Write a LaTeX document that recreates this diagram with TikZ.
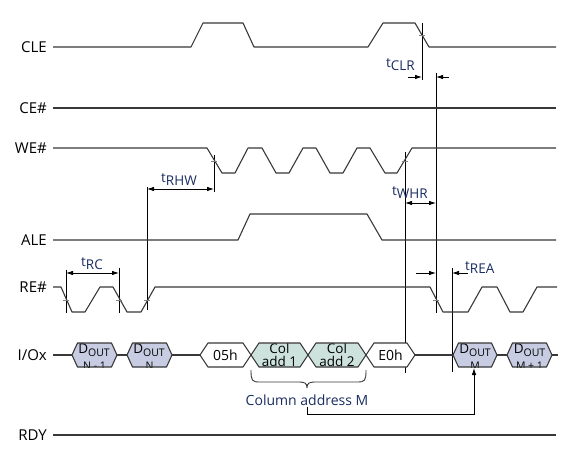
\documentclass[tikz,border=0pt]{standalone}
\usepackage{fontspec}
\setmainfont{Open Sans}
\usetikzlibrary{arrows.meta}
\definecolor{navy}{HTML}{1A2C62}
\definecolor{doutfill}{HTML}{C8CCE2}
\definecolor{colfill}{HTML}{CDE2DC}
\definecolor{wavegray}{HTML}{383838}
\newcommand\tlab[2][-3pt]{t\raisebox{#1}{#2}}
\newcommand\doutlab{D\raisebox{-3.5pt}{\fontsize{10.5}{11}\selectfont OUT}}
% #1 name, #2 left tip x, #3 right tip x, #4 bevel, #5 fill, #6 text nodes
\newcommand\bushex[6]{%
  \coordinate (#1) at ({(#2+#3)/2},355);
  \begin{scope}
    \fill[#5] (#2,355) -- ({#2+#4},343) -- ({#3-#4},343) -- (#3,355) -- ({#3-#4},367) -- ({#2+#4},367) -- cycle;
    \clip (#2,355) -- ({#2+#4},343) -- ({#3-#4},343) -- (#3,355) -- ({#3-#4},367) -- ({#2+#4},367) -- cycle;
    #6
  \end{scope}
  \draw[wave] (#2,355) -- ({#2+#4},343) -- ({#3-#4},343) -- (#3,355) -- ({#3-#4},367) -- ({#2+#4},367) -- cycle;
}
\begin{document}
\begin{tikzpicture}[x=1pt,y=-1pt,
  wave/.style={draw=wavegray,line width=1.1pt,line join=round},
  tline/.style={draw=black,line width=0.8pt},
  dim/.style={draw=black,line width=0.8pt,{Latex[length=7pt,width=4.5pt]}-{Latex[length=7pt,width=4.5pt]}},
  dimr/.style={draw=black,line width=0.8pt,-{Latex[length=7pt,width=4.5pt]}},
  tick/.style={draw=gray,line width=0.8pt},
  siglabel/.style={anchor=east,inner sep=0pt,font=\fontsize{15}{16}\selectfont},
  tlabel/.style={anchor=base west,inner sep=0pt,text=navy,font=\fontsize{13.5}{15}\selectfont},
  hextext/.style={anchor=base,inner sep=0pt,font=\fontsize{13.5}{14}\selectfont},
  smalltext/.style={anchor=base,inner sep=0pt,font=\fontsize{10.5}{11}\selectfont},
]
\useasboundingbox (0,0) rectangle (584,457);

% signal labels
\node[siglabel] (lcle) at (47,47) {CLE};
\node[siglabel] (lce)  at (47,108) {CE\#};
\node[siglabel] (lwe)  at (47,148) {WE\#};
\node[siglabel] (lale) at (47,240) {ALE};
\node[siglabel] (lre)  at (47,287) {RE\#};
\node[siglabel] (lio)  at (47,355) {I/Ox};
\node[siglabel] (lrdy) at (47,435) {RDY};

% timing reference coordinates
\coordinate (rc1t) at (66,270);   \coordinate (rc1b) at (66,313);
\coordinate (rc2t) at (119,268);  \coordinate (rc2b) at (119,313);
\coordinate (rhw1t) at (147,187); \coordinate (rhw1b) at (147,310);
\coordinate (rhw2t) at (214,155); \coordinate (rhw2b) at (214,192);
\coordinate (whr1t) at (405,152); \coordinate (whr1b) at (405,373);
\coordinate (clr1t) at (422,23);  \coordinate (clr1b) at (422,80);
\coordinate (x436t) at (436,73);  \coordinate (x436b) at (436,313);
\coordinate (rea2t) at (452,268); \coordinate (rea2b) at (452,372);

\draw[tline] (rc1t) -- (rc1b);
\draw[tline] (rc2t) -- (rc2b);
\draw[tline] (rhw1t) -- (rhw1b);
\draw[tline] (rhw2t) -- (rhw2b);
\draw[tline] (whr1t) -- (whr1b);
\draw[tline] (clr1t) -- (clr1b);
\draw[tline] (x436t) -- (x436b);
\draw[tline] (rea2t) -- (rea2b);

% dimension arrows
\coordinate (rcA) at (66,273);  \coordinate (rcB) at (119,273);
\draw[dim] (rcA) -- (rcB);
\coordinate (rhwA) at (147,189); \coordinate (rhwB) at (214,189);
\draw[dim] (rhwA) -- (rhwB);
\coordinate (whrA) at (405,203); \coordinate (whrB) at (436,203);
\draw[dim] (whrA) -- (whrB);
\coordinate (clrA0) at (408,77); \coordinate (clrA) at (422,77);
\coordinate (clrB0) at (449,77); \coordinate (clrB) at (436,77);
\draw[dimr] (clrA0) -- (clrA);
\draw[dimr] (clrB0) -- (clrB);
\coordinate (reaA0) at (416,273); \coordinate (reaA) at (436,273);
\coordinate (reaB0) at (468,273); \coordinate (reaB) at (452,273);
\draw[dimr] (reaA0) -- (reaA);
\draw[dimr] (reaB0) -- (reaB);

% timing labels
\node[tlabel] (tclr) at (386,68) {\tlab{CLR}};
\node[tlabel] (trhw) at (161,183) {\tlab[-2.5pt]{RHW}};
\node[tlabel] (twhr) at (392,196) {\tlab[-2.5pt]{WHR}};
\node[tlabel] (trc)  at (81,267) {\tlab{RC}};
\node[tlabel] (trea) at (465,271) {\tlab{REA}};

% waveforms
\draw[wave] (53,47) -- (191,47) -- (203,23) -- (243,23) -- (254,47) -- (368,47) -- (383,23) -- (415,23) -- (429,47) -- (556,47);
\draw[wave] (53,108) -- (556,108);
\draw[wave] (53,148) -- (207,148) -- (222,173) -- (235,173) -- (248,148) -- (262,148) -- (276,173) -- (289,173) -- (303,148) -- (316,148) -- (330,173) -- (343,173) -- (357,148) -- (370,148) -- (385,173) -- (397,173) -- (412,148) -- (556,148);
\draw[wave] (53,240) -- (238,240) -- (250,214) -- (367,214) -- (382,240) -- (556,240);
\draw[wave] (53,287) -- (61,287) -- (72,312) -- (85,312) -- (100,287) -- (113,287) -- (127,312) -- (141,312) -- (155,287) -- (430,287) -- (443,312) -- (468,312) -- (482,287) -- (497,287) -- (510,312) -- (523,312) -- (537,287) -- (557,287);
\draw[wave] (53,435) -- (556,435);

% crossing ticks
\foreach \tx/\ty in {422/35, 214/161, 405/161, 66/300, 119/300, 147/300, 436/300}
  \draw[tick] ({\tx-3},\ty) -- ({\tx+3},\ty);

% I/O bus
\draw[wave] (53,355) -- (72,355);
\draw[wave] (117,355) -- (127,355);
\draw[wave] (172,355) -- (200,355);
\draw[wave] (415,355) -- (453,355);
\draw[wave] (497,355) -- (507,355);
\draw[wave] (552,355) -- (558,355);

\bushex{dn1}{72}{117}{5.5}{doutfill}{%
  \node[hextext] at (94,353) {\doutlab};
  \node[smalltext] at (94.5,369) {N - 1};}
\bushex{dn}{127}{172}{5.5}{doutfill}{%
  \node[hextext] at (149,353) {\doutlab};
  \node[smalltext] at (149.5,369) {N};}
\bushex{h05}{200}{251}{8}{white}{%
  \node[hextext,font=\fontsize{14}{15}\selectfont] at (225.5,360) {05h};}
\bushex{col1}{251}{308}{8}{colfill}{%
  \node[hextext] at (279.5,353.5) {Col};
  \node[hextext] at (279.5,366.5) {add 1};}
\bushex{col2}{308}{366}{8}{colfill}{%
  \node[hextext] at (337,353.5) {Col};
  \node[hextext] at (337,366.5) {add 2};}
\bushex{he0}{366}{415}{8}{white}{%
  \node[hextext,font=\fontsize{14}{15}\selectfont] at (390.5,360) {E0h};}
\bushex{dm}{453}{497}{5.5}{doutfill}{%
  \node[hextext] at (475,353) {\doutlab};
  \node[smalltext] at (475,369) {M};}
\bushex{dm1}{507}{552}{5.5}{doutfill}{%
  \node[hextext] at (529.5,353) {\doutlab};
  \node[smalltext] at (529.5,369) {M + 1};}

% brace under column address
\coordinate (brL) at (251,370);
\coordinate (brR) at (366,370);
\coordinate (brM) at (307,388);
\draw[wave,line width=0.9pt] (brL) .. controls (251,381) and (252,382) .. (260,382) -- (298,382) .. controls (305,382) and (307,383) .. (brM)
  .. controls (307,383) and (309,382) .. (316,382) -- (357,382) .. controls (365,382) and (366,381) .. (brR);

\node[anchor=base,inner sep=0pt,text=navy,font=\fontsize{14}{15}\selectfont] (colM) at (307,405) {Column address M};
\coordinate (colMb) at (307,407);
\coordinate (bend) at (474,414);
\coordinate (dmb) at (474,368);
\draw[dimr] (colMb) |- (bend) -- (dmb);
\end{tikzpicture}
\end{document}
